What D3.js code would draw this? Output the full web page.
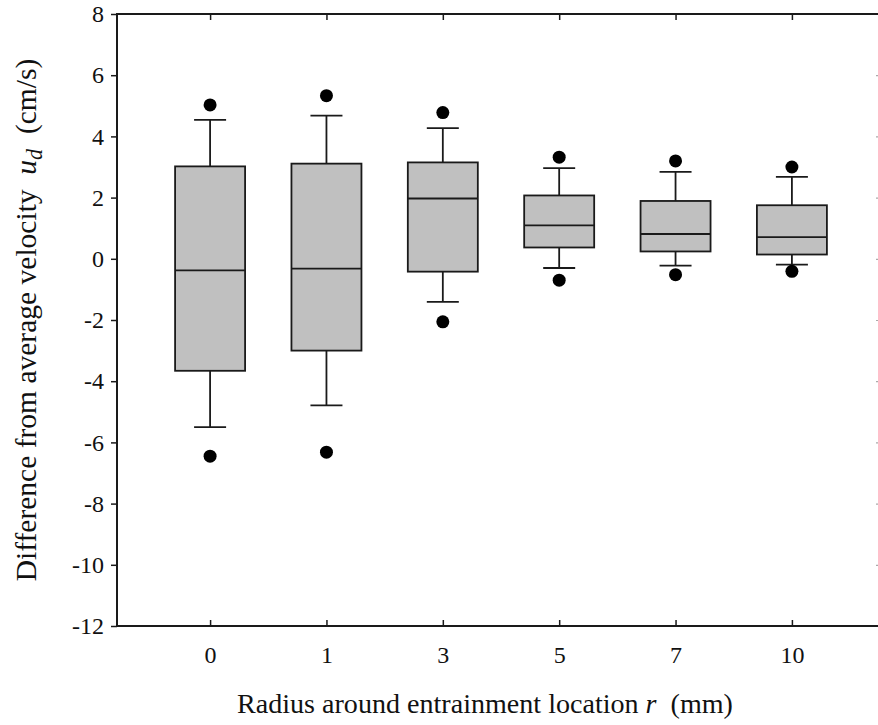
<!DOCTYPE html>
<html>
<head>
<meta charset="utf-8">
<script src="https://cdn.jsdelivr.net/npm/d3@7"></script>
<style>
  body { margin: 0; background: #fff; }
  svg { display: block; }
</style>
</head>
<body>
<svg id="chart" width="878" height="725"></svg>
<script>
// radius categories (mm)
const radii = ['0', '1', '3', '5', '7', '10'];
// box statistics (cm/s)
const whiskerLow = [-5.5, -4.79, -1.41, -0.3, -0.22, -0.19];
const q1 = [-3.66, -3.0, -0.42, 0.37, 0.24, 0.14];
const median = [-0.38, -0.32, 1.97, 1.09, 0.81, 0.71];
const q3 = [3.02, 3.11, 3.15, 2.07, 1.89, 1.75];
const whiskerHigh = [4.54, 4.68, 4.27, 2.96, 2.84, 2.68];
const outlierLow = [-6.45, -6.32, -2.06, -0.7, -0.52, -0.41];
const outlierHigh = [5.03, 5.33, 4.78, 3.32, 3.2, 3.0];
const yTicks = [8, 6, 4, 2, 0, -2, -4, -6, -8, -10, -12];

// pick the first serif face that is really installed (canvas width test)
function pickFont(list) {
  const ctx = document.createElement('canvas').getContext('2d');
  const s = 'Difference from average velocity 0123456789';
  const base = {};
  ['monospace', 'sans-serif'].forEach(b => { ctx.font = `40px ${b}`; base[b] = ctx.measureText(s).width; });
  for (const f of list) {
    for (const b of ['monospace', 'sans-serif']) {
      ctx.font = `40px "${f}", ${b}`;
      if (Math.abs(ctx.measureText(s).width - base[b]) > 0.5) return `"${f}", serif`;
    }
  }
  return 'serif';
}
const font = pickFont(['Liberation Serif', 'Tinos', 'Times New Roman', 'DejaVu Serif',
  'Noto Serif', 'FreeSerif', 'Nimbus Roman', 'Nimbus Roman No9 L', 'Noto Serif CJK SC']);

const svg = d3.select('#chart').style('font-family', font);
const plotL = 117, plotR = 885, plotT = 14, plotB = 626;
const ink = '#1a1a1a';

const x = d3.scalePoint().domain(radii).range([plotL, plotR]).padding(0.8);
const y = d3.scaleLinear().domain([-12, 8]).range([plotB, plotT]);

const boxW = 70, capW = 32;

const rows = radii.map((r, i) => ({
  r, lo: whiskerLow[i], q1: q1[i], med: median[i], q3: q3[i], hi: whiskerHigh[i],
  outs: [outlierLow[i], outlierHigh[i]]
}));

// frame
svg.append('rect').attr('x', plotL).attr('y', plotT)
  .attr('width', plotR - plotL).attr('height', plotB - plotT)
  .attr('fill', 'none').attr('stroke', ink).attr('stroke-width', 2);

// left axis
const yAxis = svg.append('g').attr('transform', `translate(${plotL},0)`)
  .call(d3.axisLeft(y).tickValues(yTicks).tickFormat(d => String(d)).tickSize(6).tickPadding(7));
yAxis.attr('font-family', null).attr('font-size', null);
yAxis.select('.domain').remove();
yAxis.selectAll('line').attr('stroke', ink).attr('stroke-width', 1.5);
yAxis.selectAll('text').attr('font-size', 24).attr('fill', '#111');

// right axis (inward ticks, mostly cut off by the picture edge)
const yAxisR = svg.append('g').attr('transform', `translate(${plotR},0)`)
  .call(d3.axisLeft(y).tickValues(yTicks.slice(1, -1)).tickFormat('').tickSize(9));
yAxisR.select('.domain').remove();
yAxisR.selectAll('line').attr('stroke', '#aaa').attr('stroke-width', 1.2);

// bottom axis
const xAxis = svg.append('g').attr('transform', `translate(0,${plotB})`)
  .call(d3.axisBottom(x).tickSize(-6).tickPadding(20));
xAxis.attr('font-family', null).attr('font-size', null);
xAxis.select('.domain').remove();
xAxis.selectAll('line').attr('stroke', ink).attr('stroke-width', 1.5);
xAxis.selectAll('text').attr('font-size', 24).attr('fill', '#111');

// top axis
const xAxisT = svg.append('g').attr('transform', `translate(0,${plotT})`)
  .call(d3.axisTop(x).tickSize(-6).tickFormat(''));
xAxisT.select('.domain').remove();
xAxisT.selectAll('line').attr('stroke', ink).attr('stroke-width', 1.5);

// boxes
const g = svg.append('g');
const box = g.selectAll('g.box').data(rows).join('g').attr('class', 'box')
  .attr('transform', d => `translate(${x(d.r)},0)`);

box.append('line').attr('y1', d => y(d.q3)).attr('y2', d => y(d.hi))
  .attr('stroke', ink).attr('stroke-width', 1.8);
box.append('line').attr('y1', d => y(d.q1)).attr('y2', d => y(d.lo))
  .attr('stroke', ink).attr('stroke-width', 1.8);
box.append('line').attr('x1', -capW / 2).attr('x2', capW / 2)
  .attr('y1', d => y(d.hi)).attr('y2', d => y(d.hi))
  .attr('stroke', ink).attr('stroke-width', 1.8);
box.append('line').attr('x1', -capW / 2).attr('x2', capW / 2)
  .attr('y1', d => y(d.lo)).attr('y2', d => y(d.lo))
  .attr('stroke', ink).attr('stroke-width', 1.8);
box.append('rect').attr('x', -boxW / 2).attr('width', boxW)
  .attr('y', d => y(d.q3)).attr('height', d => y(d.q1) - y(d.q3))
  .attr('fill', '#c0c0c0').attr('stroke', ink).attr('stroke-width', 1.8);
box.append('line').attr('x1', -boxW / 2).attr('x2', boxW / 2)
  .attr('y1', d => y(d.med)).attr('y2', d => y(d.med))
  .attr('stroke', ink).attr('stroke-width', 1.8);
box.selectAll('circle').data(d => d.outs).join('circle')
  .attr('cx', 0).attr('cy', d => y(d)).attr('r', 6.5).attr('fill', '#000');

// shrink/grow a title's font so it spans the same length as in the figure
function fitLength(sel, target) {
  const fs = +sel.attr('font-size');
  const len = sel.node().getComputedTextLength();
  const nfs = Math.max(20, Math.min(32, fs * target / len));
  sel.attr('font-size', nfs);
  sel.selectAll('tspan.sub').attr('font-size', nfs * 0.75);
}

// axis titles
const xt = svg.append('text').attr('x', 485).attr('y', 713)
  .attr('text-anchor', 'middle').attr('font-size', 27).attr('fill', '#111');
xt.append('tspan').text('Radius around entrainment location ');
xt.append('tspan').attr('font-style', 'italic').text('r');
xt.append('tspan').text('\u00a0 (mm)');
fitLength(xt, 496);

const yt = svg.append('text')
  .attr('transform', 'translate(36,320) rotate(-90)')
  .attr('text-anchor', 'middle').attr('font-size', 29).attr('fill', '#111');
yt.append('tspan').text('Difference from average velocity\u00a0 ');
yt.append('tspan').attr('font-style', 'italic').text('u');
yt.append('tspan').attr('class', 'sub').attr('font-style', 'italic').attr('font-size', 22).attr('dy', 6).text('d');
yt.append('tspan').attr('dy', -6).text('\u00a0 (cm/s)');
fitLength(yt, 523);
</script>
</body>
</html>
